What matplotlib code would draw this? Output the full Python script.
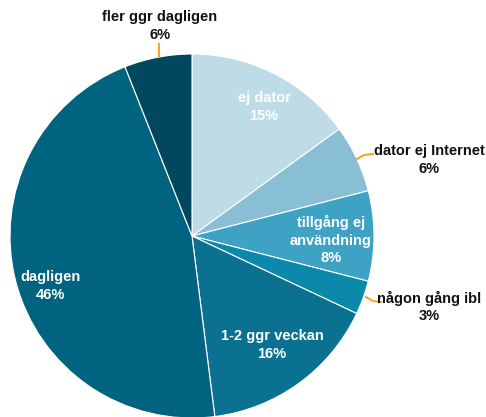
import matplotlib
matplotlib.use('Agg')
import matplotlib.pyplot as plt

# slice data, clockwise from 12 o'clock
labels = ['ej dator', 'dator ej Internet', 'tillgång ej\nanvändning', 'någon gång ibl',
          '1-2 ggr veckan', 'dagligen', 'fler ggr dagligen']
values = [15, 6, 8, 3, 16, 46, 6]
colors = ['#bddce7', '#89bfd5', '#3ea2c5', '#0b89aa', '#0b7191', '#006480', '#00485e']

plt.rcParams['font.family'] = ['Liberation Sans', 'DejaVu Sans']

fig = plt.figure(figsize=(4.86, 4.17), dpi=100)
ax = fig.add_axes([0, 0, 1, 1])

# pie in pixel coordinates (y flipped -> counterclock=True gives clockwise on screen)
cx, cy, r = 192, 236, 182
ax.pie(values, colors=colors, startangle=-90, counterclock=True,
       center=(cx, cy), radius=r,
       wedgeprops=dict(edgecolor='white', linewidth=0.8))
ax.set_xlim(0, 486)
ax.set_ylim(417, 0)
ax.set_aspect('equal')
ax.axis('off')

inside = {0: (264, 107), 2: (331, 240), 4: (272, 345), 5: (50, 286)}
for i, (x, y) in inside.items():
    ax.text(x, y, f'{labels[i]}\n{values[i]}%', color='white', fontsize=10.5,
            fontweight='bold', ha='center', va='center', linespacing=1.3)

outside = {6: (160, 26), 1: (429, 160), 3: (429, 307)}
for i, (x, y) in outside.items():
    ax.text(x, y, f'{labels[i]}\n{values[i]}%', color='#111111', fontsize=10.5,
            fontweight='bold', ha='center', va='center', linespacing=1.3)

orange = '#f5a623'
ax.plot([159, 159], [44, 57], color=orange, lw=1.5)
ax.plot([357, 364, 373], [159, 155, 154], color=orange, lw=1.5)
ax.plot([366, 373, 381], [297, 301, 302], color=orange, lw=1.5)

fig.savefig('out.png', dpi=100)
